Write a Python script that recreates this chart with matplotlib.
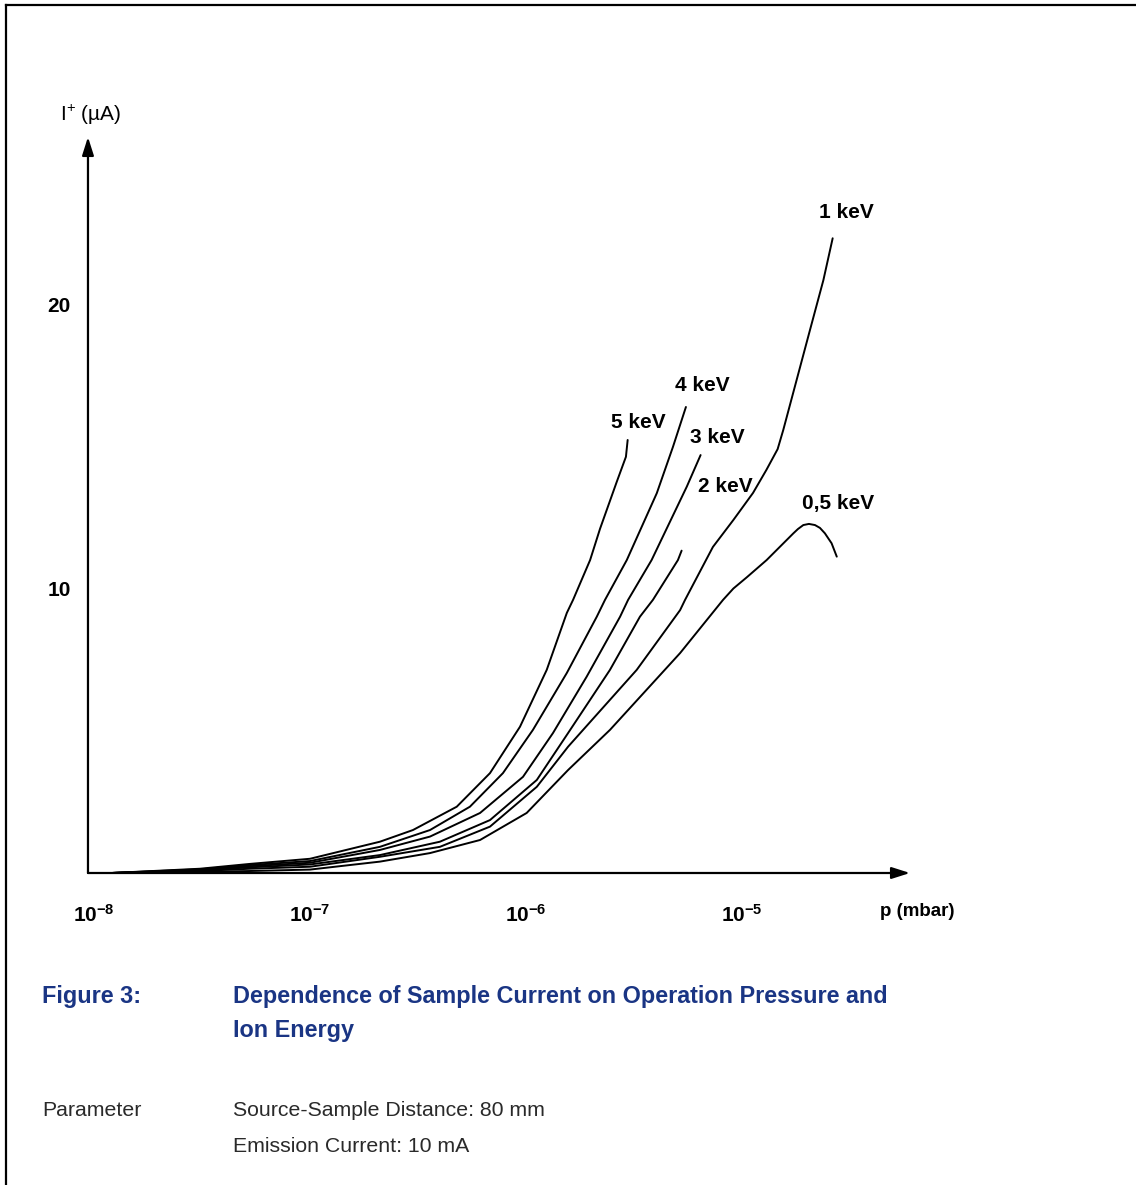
import matplotlib
matplotlib.use("Agg")
import matplotlib.pyplot as plt
from matplotlib.lines import Line2D
from matplotlib.transforms import ScaledTranslation
import numpy as np

# ion current I+ (uA) versus pressure (log10 of p in mbar)
logp_5kev = [-7.881, -7.472, -7.240, -6.962, -6.638, -6.485, -6.282, -6.128, -5.989,
             -5.865, -5.772, -5.743, -5.664, -5.618, -5.541, -5.498, -5.490]
cur_5kev = [0.0, 0.15, 0.32, 0.50, 1.10, 1.51, 2.33, 3.51, 5.14,
            7.14, 9.14, 9.60, 11.00, 12.10, 13.74, 14.63, 15.22]

logp_4kev = [-7.881, -7.472, -7.240, -6.962, -6.638, -6.406, -6.221, -6.068, -5.929,
             -5.772, -5.633, -5.595, -5.494, -5.355, -5.280, -5.220]
cur_4kev = [0.0, 0.13, 0.28, 0.42, 0.92, 1.51, 2.33, 3.51, 5.03,
            7.03, 9.01, 9.60, 11.00, 13.35, 14.98, 16.38]

logp_3kev = [-7.881, -7.472, -7.240, -6.962, -6.638, -6.406, -6.174, -5.975, -5.836,
             -5.680, -5.525, -5.488, -5.379, -5.216, -5.152]
cur_3kev = [0.0, 0.11, 0.24, 0.36, 0.81, 1.28, 2.11, 3.38, 4.92,
            6.90, 9.01, 9.60, 11.00, 13.58, 14.69]

logp_2kev = [-7.881, -7.472, -7.240, -6.962, -6.638, -6.360, -6.128, -5.911, -5.766,
             -5.572, -5.433, -5.373, -5.257, -5.240]
cur_2kev = [0.0, 0.09, 0.20, 0.30, 0.63, 1.10, 1.86, 3.27, 4.92,
            7.14, 9.01, 9.60, 11.00, 11.33]

logp_1kev = [-7.881, -7.472, -7.240, -6.962, -6.638, -6.360, -6.128, -5.911, -5.766,
             -5.448, -5.247, -5.224, -5.095, -5.000, -4.909, -4.847, -4.795, -4.769,
             -4.707, -4.645, -4.583, -4.540]
cur_1kev = [0.0, 0.07, 0.15, 0.22, 0.57, 0.92, 1.63, 3.03, 4.44,
            7.14, 9.24, 9.60, 11.46, 12.41, 13.36, 14.17, 14.90, 15.57,
            17.33, 19.09, 20.84, 22.31]

logp_05kev = [-7.881, -7.472, -7.240, -6.962, -6.638, -6.406, -6.174, -5.958, -5.766,
              -5.572, -5.247, -5.048, -5.000, -4.937, -4.846, -4.722, -4.701, -4.676,
              -4.650, -4.622, -4.599, -4.576, -4.545, -4.521]
cur_05kev = [0.0, 0.04, 0.07, 0.12, 0.40, 0.70, 1.16, 2.11, 3.62,
             5.03, 7.73, 9.60, 10.00, 10.40, 11.00, 11.94, 12.09, 12.23,
             12.27, 12.23, 12.13, 11.94, 11.59, 11.12]

curve_labels = ["5 keV", "4 keV", "3 keV", "2 keV", "1 keV", "0,5 keV"]
# label anchor (log10 p, I) for each curve
label_logp = [-5.442, -5.145, -5.076, -5.039, -4.478, -4.515]
label_cur = [15.85, 17.12, 15.29, 13.60, 23.2, 13.0]

x_ticks = [1e-8, 1e-7, 1e-6, 1e-5]
x_tick_labels = [r"$\mathbf{10^{-8}}$", r"$\mathbf{10^{-7}}$",
                 r"$\mathbf{10^{-6}}$", r"$\mathbf{10^{-5}}$"]
y_ticks = [10, 20]

plt.rcParams["font.family"] = ["Liberation Sans", "DejaVu Sans"]
plt.rcParams["mathtext.fontset"] = "custom"
plt.rcParams["mathtext.bf"] = "Liberation Sans:bold"
plt.rcParams["mathtext.rm"] = "Liberation Sans"

W, H = 1136, 1185
fig = plt.figure(figsize=(W / 100, H / 100), dpi=100)

# frame lines at top and left of the page
fig.add_artist(Line2D([6 / W, 1], [1 - 5 / H, 1 - 5 / H], color="black", lw=1.6))
fig.add_artist(Line2D([6 / W, 6 / W], [0, 1 - 5 / H], color="black", lw=1.6))

# axes box: x from px 86 to 910, y from px 873 (zero) to 137
ax = fig.add_axes([86 / W, 1 - 873 / H, (910 - 86) / W, (873 - 137) / H])
ax.set_xscale("log")
ax.set_xlim(1e-8, 10 ** (-8 + 824 / 215.8))
ax.set_ylim(0, (873 - 137) / 28.45)
for s in ax.spines.values():
    s.set_visible(False)

series = [(logp_5kev, cur_5kev), (logp_4kev, cur_4kev), (logp_3kev, cur_3kev),
          (logp_2kev, cur_2kev), (logp_1kev, cur_1kev), (logp_05kev, cur_05kev)]
for lp, cur in series:
    ax.plot(10 ** np.array(lp), cur, color="black", lw=1.4,
            solid_capstyle="round", solid_joinstyle="round")

for lab, lp, c in zip(curve_labels, label_logp, label_cur):
    ax.text(10 ** lp, c, lab, ha="center", va="center", fontsize=15,
            fontweight="bold")

# axis arrows
arrow = dict(arrowstyle="-|>,head_length=1.1,head_width=0.35", color="black",
             lw=1.6, shrinkA=0, shrinkB=0)
ax.annotate("", xy=(1.0, 0.0), xytext=(0.0024, 0.0), xycoords="axes fraction",
            arrowprops=arrow)
ax.annotate("", xy=(0.0024, 1.0), xytext=(0.0024, 0.0), xycoords="axes fraction",
            arrowprops=arrow)

ax.set_xticks(x_ticks)
ax.set_xticklabels(x_tick_labels)
ax.minorticks_off()
ax.set_yticks(y_ticks)
ax.set_yticklabels([str(v) for v in y_ticks], fontweight="bold")
ax.tick_params(axis="x", length=0, labelsize=15, pad=22)
ax.tick_params(axis="y", length=0, labelsize=15, pad=11)
shift = ScaledTranslation(8 / 100, 0, fig.dpi_scale_trans)
for t in ax.get_xticklabels():
    t.set_transform(t.get_transform() + shift)

fig.text(60 / W, 1 - 115 / H, "I$^{+}$ (\u00b5A)", fontsize=15, ha="left",
         va="center")
fig.text(880 / W, 1 - 912 / H, "p (mbar)", fontsize=13.5, fontweight="bold",
         ha="left", va="center")

blue = "#1a3584"
fig.text(42 / W, 1 - 996 / H, "Figure 3:", fontsize=16.8, fontweight="bold",
         color=blue, ha="left", va="center")
fig.text(233 / W, 1 - 996 / H, "Dependence of Sample Current on Operation Pressure and",
         fontsize=16.8, fontweight="bold", color=blue, ha="left", va="center")
fig.text(233 / W, 1 - 1031 / H, "Ion Energy", fontsize=16.8, fontweight="bold",
         color=blue, ha="left", va="center")

grey = "#2a2a2a"
fig.text(42 / W, 1 - 1110 / H, "Parameter", fontsize=15.3, color=grey,
         ha="left", va="center")
fig.text(233 / W, 1 - 1110 / H, "Source-Sample Distance: 80 mm", fontsize=15.3,
         color=grey, ha="left", va="center")
fig.text(233 / W, 1 - 1147 / H, "Emission Current: 10 mA", fontsize=15.3,
         color=grey, ha="left", va="center")

fig.savefig("out.png", dpi=100)
